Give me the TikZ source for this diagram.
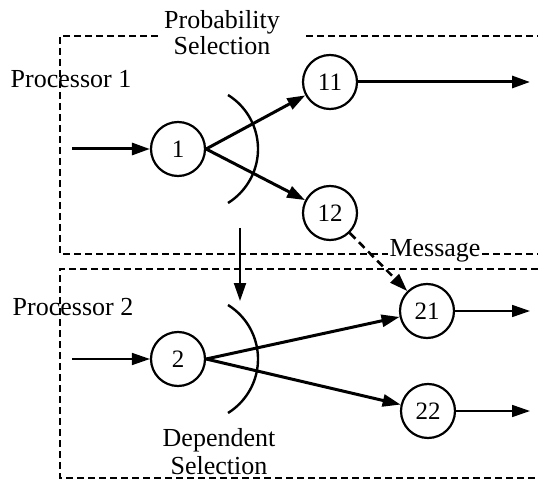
\documentclass[tikz,border=0pt]{standalone}
\usepackage{fontspec}
\setmainfont{Liberation Serif}
\usetikzlibrary{arrows.meta}
\begin{document}
\begin{tikzpicture}[x=1pt,y=-1pt,
  state/.style={circle,draw,line width=2.2pt,minimum size=54pt,inner sep=0pt,
    font=\fontsize{25}{27}\selectfont},
  tip/.style={-{Triangle[length=18pt,width=12pt]}},
  heavy/.style={tip,line width=3pt},
  light/.style={tip,line width=1.7pt},
  msg/.style={tip,line width=2.6pt,dash pattern=on 8pt off 5pt},
  boxline/.style={line width=2.5pt,dash pattern=on 7pt off 4pt},
  selarc/.style={line width=2.4pt},
  lbl/.style={font=\fontsize{26}{28}\selectfont,inner sep=0pt,align=center}]

\useasboundingbox (0,0) rectangle (538,481);

% processor boundaries
\draw[boxline] (158,36) -- (60,36) -- (60,254) -- (388,254);
\draw[boxline] (306,36) -- (538,36);
\draw[boxline] (482,254) -- (538,254);
\draw[boxline] (538,269) -- (60,269) -- (60,478) -- (538,478);

% labels
\node[lbl] (plabel) at (222,33) {Probability\\[-2pt]Selection};
\node[lbl] (dlabel) at (219,452) {Dependent\\[0pt]Selection};
\node[lbl] (p1) at (71,79) {Processor 1};
\node[lbl] (p2) at (73,307) {Processor 2};
\node[lbl] (mlabel) at (435,251) {Message};

% tasks
\node[state] (n1) at (178,149) {1};
\node[state] (n11) at (330,82) {11};
\node[state] (n12) at (330,213) {12};
\node[state] (n2) at (178,359) {2};
\node[state] (n21) at (427,311) {21};
\node[state] (n22) at (428,411) {22};

% free ends
\coordinate (in1) at (72,149);
\coordinate (in2) at (72,359);
\coordinate (out11) at (530,82);
\coordinate (out21) at (530,311);
\coordinate (out22) at (530,411);
\coordinate (dtop) at (240,228);
\coordinate (dbot) at (240,301);

% selection arcs
\draw[selarc] (228,95) arc[start angle=-58.1,end angle=58.1,radius=63.6];
\draw[selarc] (228,305) arc[start angle=-58.1,end angle=58.1,radius=63.6];

% connectors
\draw[heavy] (in1) -- (n1);
\draw[heavy] (n1.east) -- (n11);
\draw[heavy] (n1.east) -- (n12);
\draw[heavy] (n11) -- (out11);
\draw[light] (in2) -- (n2);
\draw[heavy] (n2.east) -- (n21);
\draw[heavy] (n2.east) -- (n22);
\draw[light] (n21) -- (out21);
\draw[light] (n22) -- (out22);
\draw[msg] (n12) -- (n21);
\draw[tip,line width=2pt] (dtop) -- (dbot);
\end{tikzpicture}
\end{document}
